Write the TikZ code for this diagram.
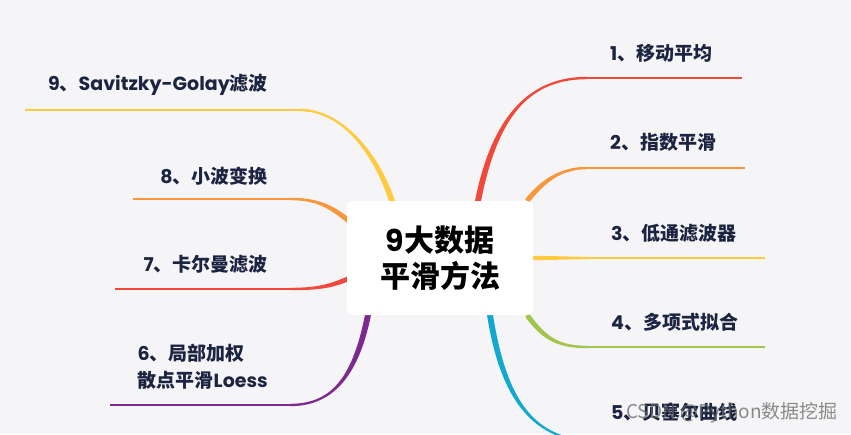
\documentclass[tikz,border=0pt]{standalone}
\usepackage{fontspec}
\setmainfont{Noto Sans CJK SC}
\newfontfamily\lat{Poppins}
\usetikzlibrary{calc}

\definecolor{paper}{HTML}{F5F5F8}
\definecolor{ink}{HTML}{1B2440}
\definecolor{bred}{HTML}{F0483A}
\definecolor{borange}{HTML}{F7963A}
\definecolor{byellow}{HTML}{FFC940}
\definecolor{bgreen}{HTML}{A3C44E}
\definecolor{bblue}{HTML}{12A8CF}
\definecolor{bpurple}{HTML}{7D2A8F}

\tikzset{
  lbl/.style={inner sep=0pt, text=ink, font=\fontsize{19}{27}\selectfont\bfseries},
  rootbox/.style={fill=white, rounded corners=6pt, minimum width=186pt,
    minimum height=114pt, align=center, inner sep=0pt,
    font=\fontsize{30}{36}\selectfont\bfseries},
  twig/.style={line width=2.4pt}
}

% tapered branch: colour, start, ctrl 1, ctrl 2, elbow, start offset, elbow offset
\newcommand{\branch}[7]{%
  \fill[#1] ($(#2)+(#6)$) .. controls ($(#3)+(#6)$) and ($(#4)+(#7)$) .. ($(#5)+(#7)$)
    -- ($(#5)-(#7)$) .. controls ($(#4)-(#7)$) and ($(#3)-(#6)$) .. ($(#2)-(#6)$) -- cycle;}

\begin{document}
\begin{tikzpicture}[x=1pt, y=-1pt]
  \useasboundingbox (0,0) rectangle (851,434);
  \clip (0,0) rectangle (851,434);
  \fill[paper] (0,0) rectangle (851,434);

  % branch points, right side
  \coordinate (s1) at (478,201); \coordinate (e1) at (587,78);  \coordinate (t1) at (742,78);
  \coordinate (s2) at (527,201); \coordinate (e2) at (587,168); \coordinate (t2) at (745,168);
  \coordinate (s3) at (530,258); \coordinate (e3) at (588,258); \coordinate (t3) at (765,258);
  \coordinate (s4) at (527,315); \coordinate (e4) at (588,347); \coordinate (t4) at (765,347);
  \coordinate (s5) at (490,315); \coordinate (e5) at (600,442); \coordinate (t5) at (765,442);
  % branch points, left side
  \coordinate (s9) at (392,201); \coordinate (e9) at (300,110); \coordinate (t9) at (25,110);
  \coordinate (s8) at (350,222); \coordinate (e8) at (290,199); \coordinate (t8) at (133,199);
  \coordinate (s7) at (350,278); \coordinate (e7) at (290,289); \coordinate (t7) at (115,289);
  \coordinate (s6) at (368,315); \coordinate (e6) at (290,405); \coordinate (t6) at (110,405);

  \branch{bred}{s1}{495,115}{530,78}{e1}{-3,0}{0,-1.2}
  \branch{borange}{s2}{542,182}{560,168}{e2}{-1.8,-1.8}{0,-1.2}
  \branch{byellow}{s3}{550,258}{570,258}{e3}{0,-2.2}{0,-1.2}
  \branch{bgreen}{s4}{545,340}{560,347}{e4}{1.8,-1.8}{0,-1.2}
  \branch{bblue}{s5}{505,410}{540,442}{e5}{3,0}{0,-1.2}
  \branch{byellow}{s9}{375,150}{340,110}{e9}{-3,0}{0,1.2}
  \branch{borange}{s8}{330,205}{315,199}{e8}{-1.8,1.8}{0,1.2}
  \branch{bred}{s7}{330,287}{315,289}{e7}{1.5,2}{0,1.2}
  \branch{bpurple}{s6}{355,380}{330,405}{e6}{3,0}{0,1.2}

  \draw[twig, bred] (e1) -- (t1);
  \draw[twig, borange] (e2) -- (t2);
  \draw[twig, byellow] (e3) -- (t3);
  \draw[twig, bgreen] (e4) -- (t4);
  \draw[twig, bblue] (e5) -- (t5);
  \draw[twig, byellow] (e9) -- (t9);
  \draw[twig, borange] (e8) -- (t8);
  \draw[twig, bred] (e7) -- (t7);
  \draw[twig, bpurple] (e6) -- (t6);

  \node[rootbox] (root) at (440,258) {{\lat 9}大数据\\平滑方法};

  \node[lbl, anchor=west] (l1) at (610,53) {{\lat 1}、移动平均};
  \node[lbl, anchor=west] (l2) at (610,142) {{\lat 2}、指数平滑};
  \node[lbl, anchor=west] (l3) at (611,233) {{\lat 3}、低通滤波器};
  \node[lbl, anchor=west] (l4) at (611,322) {{\lat 4}、多项式拟合};
  \node[lbl, anchor=west] (l5) at (611,412) {{\lat 5}、贝塞尔曲线};
  \node[lbl, anchor=east] (l9) at (268,85) {{\lat 9}、{\lat Savitzky-Golay}滤波};
  \node[lbl, anchor=east] (l8) at (268,176) {{\lat 8}、小波变换};
  \node[lbl, anchor=east] (l7) at (268,264) {{\lat 7}、卡尔曼滤波};
  \node[lbl, anchor=east, align=left] (l6) at (268,367) {{\lat 6}、局部加权\\散点平滑{\lat Loess}};

  \node[text=black!60, opacity=0.75, inner sep=0pt, anchor=west,
    font=\fontsize{19}{23}\selectfont] (mark) at (626,413) {CSDN @Python数据挖掘};
\end{tikzpicture}
\end{document}
